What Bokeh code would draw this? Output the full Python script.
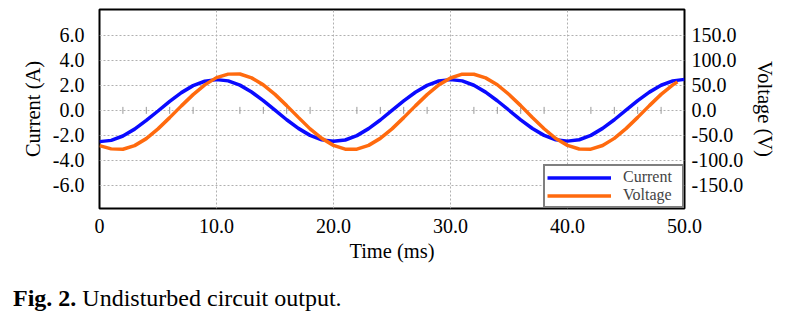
import numpy as np
from bokeh.plotting import figure
from bokeh.layouts import column
from bokeh.models import (Range1d, LinearAxis, FixedTicker, PrintfTickFormatter,
                          Legend, LegendItem, Div)
from bokeh.embed import file_html
from bokeh.resources import INLINE

# ---- data ----
time_ms = [0, 1, 2, 3, 4, 5, 6, 7, 8, 9, 10, 11, 12, 13, 14, 15, 16, 17, 18, 19,
           20, 21, 22, 23, 24, 25, 26, 27, 28, 29, 30, 31, 32, 33, 34, 35, 36, 37, 38, 39,
           40, 41, 42, 43, 44, 45, 46, 47, 48, 49, 50]
current_a = [-2.50, -2.40, -2.05, -1.50, -0.80, -0.05, 0.72, 1.42, 1.98, 2.33,
             2.46, 2.36, 2.02, 1.47, 0.78, 0.02, -0.75, -1.44, -2.00, -2.36,
             -2.47, -2.37, -2.02, -1.46, -0.77, 0.00, 0.76, 1.45, 2.00, 2.35,
             2.46, 2.36, 2.01, 1.46, 0.77, 0.01, -0.76, -1.45, -2.00, -2.35,
             -2.46, -2.35, -2.00, -1.44, -0.75, 0.02, 0.78, 1.46, 2.01, 2.36, 2.48]
volt_time_ms = [0, 1, 2, 3, 4, 5, 6, 7, 8, 9, 10, 11, 12, 13, 14, 15, 16, 17, 18, 19,
                20, 21, 22, 23, 24, 25, 26, 27, 28, 29, 30, 31, 32, 33, 34, 35, 36, 37, 38, 39,
                40, 41, 42, 43, 44, 45, 46, 47, 48, 49, 49.4]
voltage_v = [-70.5, -77.0, -77.8, -70.5, -56.5, -37.0, -14.5, 9.0, 31.5, 51.0,
             65.5, 72.5, 72.8, 65.0, 51.0, 32.0, 9.5, -14.0, -37.0, -56.0,
             -70.0, -77.5, -77.5, -70.0, -56.0, -37.0, -14.5, 9.0, 31.5, 51.0,
             64.8, 72.5, 72.3, 65.0, 51.2, 31.8, 9.5, -14.3, -36.8, -56.2,
             -70.0, -77.3, -77.6, -70.2, -56.0, -36.5, -14.0, 9.5, 32.0, 51.0, 57.0]

x_ticks = [0, 10, 20, 30, 40, 50]
current_ticks = [-6, -4, -2, 0, 2, 4, 6]
voltage_ticks = [-150, -100, -50, 0, 50, 100, 150]
series_names = ["Current", "Voltage"]
x_title = "Time (ms)"
left_title = "Current (A)"
right_title = "Voltage (V)"
caption_bold = "Fig. 2."
caption_text = "Undisturbed circuit output."

SERIF = "Liberation Serif"
BLUE = "#0a0aff"
ORANGE = "#ff6a0e"

p = figure(width=788, height=285, output_backend="svg", toolbar_location=None,
           x_range=Range1d(0, 50), y_range=Range1d(-7.85, 8.07),
           min_border_left=99, min_border_right=104, min_border_top=9,
           min_border_bottom=77, background_fill_color="white",
           border_fill_color="white")
p.extra_y_ranges = {"v": Range1d(-7.85 * 25, 8.07 * 25)}

p.outline_line_color = "black"
p.outline_line_width = 2
p.outline_line_alpha = 1

for g in (p.xgrid, p.ygrid):
    g.grid_line_color = "#b0b0b0"
    g.grid_line_dash = "2 2"
    g.grid_line_width = 1
p.xgrid.ticker = FixedTicker(ticks=x_ticks)
p.ygrid.ticker = FixedTicker(ticks=current_ticks)

# x axis
xa = p.xaxis[0]
xa.ticker = FixedTicker(ticks=x_ticks)
xa.formatter = PrintfTickFormatter(format="%.1f")
xa.major_label_overrides = {0: "0"}
xa.axis_label = x_title

# left axis
ya = p.yaxis[0]
ya.ticker = FixedTicker(ticks=current_ticks)
ya.formatter = PrintfTickFormatter(format="%.1f")
ya.axis_label = left_title

# right axis
ra = LinearAxis(y_range_name="v", axis_label=right_title)
ra.ticker = FixedTicker(ticks=voltage_ticks)
ra.formatter = PrintfTickFormatter(format="%.1f")
p.add_layout(ra, "right")

for ax in (xa, ya, ra):
    ax.axis_line_color = None
    ax.major_tick_line_color = None
    ax.minor_tick_line_color = None
    ax.major_tick_out = 0
    ax.major_tick_in = 0
    ax.major_label_text_font = SERIF
    ax.major_label_text_font_size = "20px"
    ax.major_label_text_color = "black"
    ax.axis_label_text_font = SERIF
    ax.axis_label_text_font_style = "normal"
    ax.axis_label_text_font_size = "20.5px"
    ax.axis_label_text_color = "black"

xa.major_label_standoff = 10
xa.axis_label_standoff = 4
ya.major_label_standoff = 15
ya.axis_label_standoff = 6
ra.major_label_standoff = 7
ra.axis_label_standoff = 8

# small ticks along the zero line (every 2 ms)
minor_t = [t for t in np.arange(2, 50, 2) if t % 10 != 0]
p.scatter(x=minor_t, y=[0] * len(minor_t), marker="dash", angle=np.pi / 2,
          size=7, line_color="#999999", line_width=1)

r_i = p.line(time_ms, current_a, line_color=BLUE, line_width=3.5)
r_v = p.line(volt_time_ms, voltage_v, line_color=ORANGE, line_width=3.5,
             y_range_name="v")

legend = Legend(items=[LegendItem(label=series_names[0], renderers=[r_i]),
                       LegendItem(label=series_names[1], renderers=[r_v])],
                location="bottom_right", margin=0, padding=2, spacing=0,
                glyph_width=64, glyph_height=17, label_height=17,
                label_width=57, label_standoff=12,
                border_line_color="black", border_line_width=2,
                background_fill_color="white", background_fill_alpha=1,
                label_text_font=SERIF, label_text_font_size="16px")
p.add_layout(legend)

caption = Div(text="<b>%s</b> %s" % (caption_bold, caption_text),
              width=788, height=43, margin=0,
              styles={"font-family": SERIF, "font-size": "24px",
                      "color": "black", "padding-left": "13px",
                      "line-height": "normal", "margin": "0"})

layout = column(p, caption, spacing=0)
open("out.html", "w").write(file_html(layout, INLINE))
